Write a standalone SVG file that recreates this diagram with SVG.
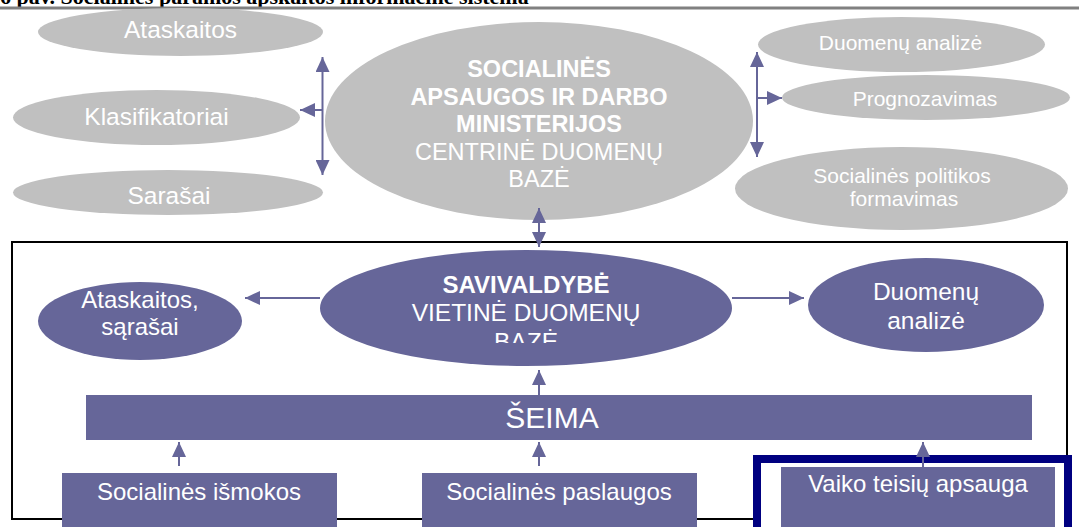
<svg xmlns="http://www.w3.org/2000/svg" width="1079" height="527" viewBox="0 0 1079 527">
<style>
  .g { fill: #c0c0c0; }
  .p { fill: #666699; }
  .t { font-family: "Liberation Sans", Arial, sans-serif; fill: #ffffff; text-anchor: middle; }
  .b { font-weight: bold; }
  .c { stroke: #666699; stroke-width: 2; fill: none; }
  .cap { font-family: "Liberation Serif", "Times New Roman", serif; font-weight: bold; font-size: 22px; fill: #000; }
</style>
<defs>
  <marker id="ah" viewBox="0 0 15 14" refX="15" refY="7" markerWidth="15" markerHeight="14" markerUnits="userSpaceOnUse" orient="auto-start-reverse">
    <path d="M0,0 L15,7 L0,14 Z" fill="#666699"/>
  </marker>
  <clipPath id="bazeClip"><rect x="300" y="240" width="480" height="103"/></clipPath>
</defs>
<rect width="1079" height="527" fill="#ffffff"/>

<g id="caption">
  <text class="cap" x="0" y="4">6 pav. Socialinės paramos apskaitos informacinė sistema</text>
  <line x1="0" y1="8" x2="1079" y2="8" stroke="#808080" stroke-width="3"/>
</g>

<g id="frame">
  <rect x="12" y="242" width="1055" height="277" fill="none" stroke="#000" stroke-width="2"/>
</g>

<g id="n-ataskaitos">
  <ellipse class="g" cx="180.5" cy="32" rx="142.5" ry="24"/>
  <text class="t" x="180.5" y="38" font-size="24.5">Ataskaitos</text>
</g>
<g id="n-klasifikatoriai">
  <ellipse class="g" cx="156.5" cy="117.5" rx="143.5" ry="27.5"/>
  <text class="t" x="156.5" y="125" font-size="24.5">Klasifikatoriai</text>
</g>
<g id="n-sarasai">
  <ellipse class="g" cx="168" cy="192.5" rx="155" ry="22.5"/>
  <text class="t" x="169" y="204" font-size="24.5">Sarašai</text>
</g>

<g id="n-centrine">
  <ellipse class="g" cx="539" cy="121" rx="214" ry="99"/>
  <text class="t b" x="539" y="77" font-size="23.5">SOCIALINĖS</text>
  <text class="t b" x="539" y="105" font-size="23.5">APSAUGOS IR DARBO</text>
  <text class="t b" x="539" y="132" font-size="23.5">MINISTERIJOS</text>
  <text class="t" x="539" y="160" font-size="23.5">CENTRINĖ DUOMENŲ</text>
  <text class="t" x="539" y="187" font-size="23.5">BAZĖ</text>
</g>

<g id="n-duomenu-analize-top">
  <ellipse class="g" cx="901.5" cy="44.5" rx="143.5" ry="27.5"/>
  <text class="t" x="900.5" y="50" font-size="21">Duomenų analizė</text>
</g>
<g id="n-prognozavimas">
  <ellipse class="g" cx="926" cy="97.5" rx="144" ry="22.5"/>
  <text class="t" x="925" y="106" font-size="21">Prognozavimas</text>
</g>
<g id="n-politikos">
  <ellipse class="g" cx="901.5" cy="188.5" rx="166.5" ry="41.5"/>
  <text class="t" x="902" y="183" font-size="21">Socialinės politikos</text>
  <text class="t" x="904" y="206" font-size="21">formavimas</text>
</g>

<g id="n-ataskaitos-sarasai">
  <ellipse class="p" cx="140" cy="321" rx="102" ry="39"/>
  <text class="t" x="140" y="308" font-size="24">Ataskaitos,</text>
  <text class="t" x="140" y="335" font-size="24">sąrašai</text>
</g>

<g id="n-savivaldybe">
  <ellipse class="p" cx="526" cy="308" rx="206" ry="58"/>
  <text class="t b" x="526" y="293" font-size="24">SAVIVALDYBĖ</text>
  <text class="t" x="526" y="321" font-size="24.5">VIETINĖ DUOMENŲ</text>
  <text class="t" x="526" y="350" font-size="24.5" clip-path="url(#bazeClip)">BAZĖ</text>
</g>

<g id="n-duomenu-analize">
  <ellipse class="p" cx="926" cy="305" rx="118" ry="47"/>
  <text class="t" x="926" y="300" font-size="24.5">Duomenų</text>
  <text class="t" x="926" y="329" font-size="24.5">analizė</text>
</g>

<g id="n-seima">
  <rect class="p" x="86" y="395" width="946" height="45"/>
  <text class="t" x="552" y="428" font-size="30">ŠEIMA</text>
</g>

<g id="n-ismokos">
  <rect class="p" x="62" y="473" width="275" height="60"/>
  <text class="t" x="199" y="500" font-size="24">Socialinės išmokos</text>
</g>
<g id="n-paslaugos">
  <rect class="p" x="422" y="473" width="275" height="60"/>
  <text class="t" x="559" y="500" font-size="24">Socialinės paslaugos</text>
</g>
<g id="n-vaiko">
  <rect x="757" y="459" width="311" height="80" fill="#ffffff" stroke="#000080" stroke-width="8"/>
  <rect class="p" x="781" y="467" width="274" height="66"/>
  <text class="t" x="918" y="492" font-size="24">Vaiko teisių apsauga</text>
</g>

<g id="connectors">
  <line class="c" x1="322.5" y1="57" x2="322.5" y2="175" marker-start="url(#ah)" marker-end="url(#ah)"/>
  <line class="c" x1="322.5" y1="110" x2="300" y2="110" marker-end="url(#ah)"/>
  <line class="c" x1="757" y1="52" x2="757" y2="157" marker-start="url(#ah)" marker-end="url(#ah)"/>
  <line class="c" x1="757" y1="98" x2="782" y2="98" marker-end="url(#ah)"/>
  <line class="c" x1="539" y1="208" x2="539" y2="247" marker-start="url(#ah)" marker-end="url(#ah)"/>
  <line class="c" x1="320" y1="298" x2="245" y2="298" marker-end="url(#ah)"/>
  <line class="c" x1="732" y1="298" x2="804" y2="298" marker-end="url(#ah)"/>
  <line class="c" x1="539" y1="395" x2="539" y2="370" marker-end="url(#ah)"/>
  <line class="c" x1="179" y1="466" x2="179" y2="442" marker-end="url(#ah)"/>
  <line class="c" x1="539" y1="466" x2="539" y2="442" marker-end="url(#ah)"/>
  <line class="c" x1="923" y1="470" x2="923" y2="442" marker-end="url(#ah)"/>
</g>
</svg>
